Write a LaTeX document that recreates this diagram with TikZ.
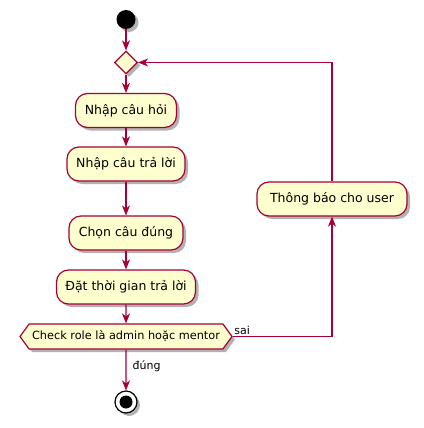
\documentclass[tikz,border=0pt]{standalone}
\usepackage{fontspec}
\setmainfont{DejaVu Sans}
\usetikzlibrary{arrows.meta,shapes.geometric,shapes.symbols,shadows}
\definecolor{uml}{HTML}{A80036}
\definecolor{umlbg}{HTML}{FEFECE}

\begin{document}
\begin{tikzpicture}[x=1pt,y=-1pt,
  shade3/.style={drop shadow={shadow xshift=3pt,shadow yshift=-3pt,opacity=.3,fill=black}},
  act/.style={draw=uml,fill=umlbg,line width=1.2pt,rounded corners=12pt,minimum height=34pt,inner sep=0pt,font=\fontsize{12.5}{14}\selectfont,shade3},
  choice/.style={draw=uml,fill=umlbg,line width=1.2pt,diamond,aspect=1,minimum width=23pt,minimum height=23pt,inner sep=0pt,shade3},
  hexa/.style={draw=uml,fill=umlbg,line width=1.2pt,signal,signal to=west and east,signal pointer angle=108,minimum width=212pt,minimum height=25pt,inner sep=0pt,font=\fontsize{11.3}{13}\selectfont,shade3},
  flow/.style={draw=uml,line width=1.2pt,-{Stealth[length=10pt,width=8pt,inset=3pt]}},
  lbl/.style={font=\fontsize{11}{13}\selectfont,inner sep=1pt,text=black}]
\useasboundingbox (0,0) rectangle (423,428);
\node[circle,fill=black,minimum size=19pt,inner sep=0pt,shade3] (s) at (126,19.5) {};
\node[choice] (d) at (126,62.5) {};
\node[act,minimum width=101pt] (a) at (126,110.5) {Nhập câu hỏi};
\node[act,minimum width=118pt] (b) at (126,164) {Nhập câu trả lời};
\node[act,minimum width=114pt] (c) at (126,233) {Chọn câu đúng};
\node[act,minimum width=139pt] (t) at (126,287) {Đặt thời gian trả lời};
\node[hexa] (k) at (126,336.5) {Check role là admin hoặc mentor};
\node[act,minimum width=150pt] (u) at (332,199) {Thông báo cho user};
\node[circle,draw=black,fill=white,line width=1.2pt,minimum size=22pt,inner sep=0pt,shade3] (e) at (126,402) {};
\node[circle,fill=black,minimum size=13pt,inner sep=0pt] (ei) at (126,402) {};
\draw[flow] (s) -- (d);
\draw[flow] (d) -- (a);
\draw[flow] (a) -- (b);
\draw[flow] (b) -- (c);
\draw[flow] (c) -- (t);
\draw[flow] (t) -- (k);
\draw[flow] (k) -- (e) node[lbl,pos=0.4,anchor=west,xshift=5pt] {đúng};
\draw[flow] (k) -| (u) node[lbl,at start,anchor=south west] {sai};
\draw[flow] (u) |- (d);
\end{tikzpicture}
\end{document}
